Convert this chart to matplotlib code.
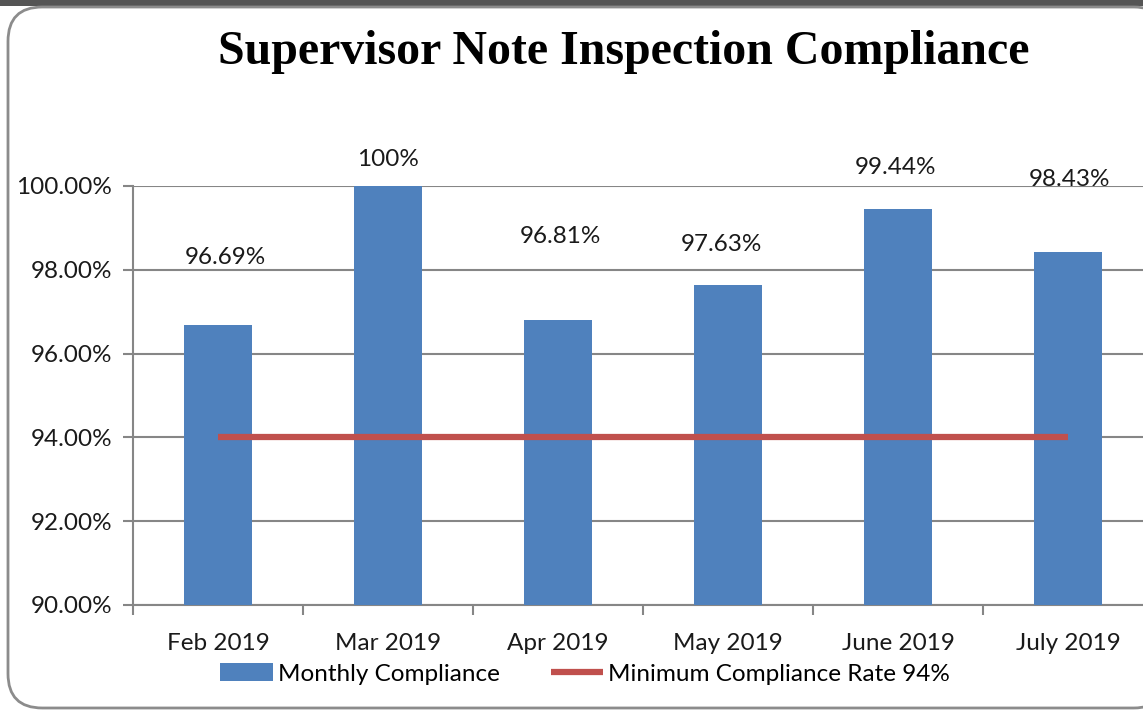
import matplotlib
matplotlib.use('Agg')
from matplotlib import pyplot as plt
from matplotlib.patches import FancyBboxPatch, Rectangle
from matplotlib.ticker import FuncFormatter, FixedLocator

months = ['Feb 2019', 'Mar 2019', 'Apr 2019', 'May 2019', 'June 2019', 'July 2019']
compliance = [96.69, 100.0, 96.81, 97.63, 99.44, 98.43]
value_labels = ['96.69%', '100%', '96.81%', '97.63%', '99.44%', '98.43%']
minimum_rate = [94, 94, 94, 94, 94, 94]

# Excel put the data labels at odd heights, offsets in pixels above bar top
label_offsets = [(7, 67), (0, 26), (2, 83), (-7, 41), (-3, 42), (2, 72)]

BLUE = '#4F81BD'
RED = '#C0504D'
GRID = '#868686'
FONT = 'Lato'
FS = 17.5

plt.rcParams['font.family'] = [FONT, 'DejaVu Sans']

fig = plt.figure(figsize=(11.43, 7.11), dpi=100)

# dark strip on top and rounded chart border
fig.patches.append(Rectangle((0, 1 - 6 / 711), 1, 6 / 711, transform=fig.transFigure,
                             facecolor='#555555', edgecolor='none', zorder=-2))
fig.patches.append(FancyBboxPatch((8 / 1143, 3 / 711), 1160 / 1143, 701 / 711,
                                  boxstyle='round,pad=0,rounding_size=0.03',
                                  transform=fig.transFigure, facecolor='white',
                                  edgecolor='#8c8c8c', linewidth=2, zorder=-1,
                                  mutation_aspect=1143 / 711))

ax = fig.add_axes([133 / 1143, 106 / 711, 1020 / 1143, 419 / 711])
x = list(range(len(months)))
bars = ax.bar(x, [c - 90 for c in compliance], bottom=90, width=0.4, color=BLUE,
              label='Monthly Compliance', zorder=3)
line, = ax.plot(x, minimum_rate, color=RED, linewidth=4.5,
                label='Minimum Compliance Rate 94%', zorder=4, solid_capstyle='butt')

for xi, val, txt, off in zip(x, compliance, value_labels, label_offsets):
    ax.annotate(txt, (xi, val), xytext=off, textcoords='offset pixels',
                ha='center', va='center', fontsize=FS, color='#1a1a1a', zorder=5)

ax.set_xlim(-0.5, 5.5)
ax.set_ylim(90, 100)
ax.set_yticks([90, 92, 94, 96, 98, 100])
ax.yaxis.set_major_formatter(FuncFormatter(lambda v, p: '%.2f%%' % v))
ax.set_xticks(x)
ax.set_xticklabels(months)
ax.xaxis.set_minor_locator(FixedLocator([i - 0.5 for i in range(7)]))
ax.tick_params(axis='x', which='major', length=0, pad=20, labelsize=FS, labelcolor='#1a1a1a')
ax.tick_params(axis='x', which='minor', length=7, width=1.5, color=GRID)
ax.tick_params(axis='y', length=7, width=1.5, color=GRID, pad=8, labelsize=FS,
               labelcolor='#1a1a1a')
ax.grid(True, axis='y', color=GRID, linewidth=1.5, zorder=1)
for side in ['top', 'right']:
    ax.spines[side].set_visible(False)
for side in ['left', 'bottom']:
    ax.spines[side].set_color(GRID)
    ax.spines[side].set_linewidth(1.5)
ax.set_facecolor('none')

fig.text(624 / 1143, 1 - 52 / 711, 'Supervisor Note Inspection Compliance',
         ha='center', va='center', fontsize=34.5, fontweight='bold',
         family='Liberation Serif')

fig.legend([bars, line], ['Monthly Compliance', 'Minimum Compliance Rate 94%'],
           loc='center', bbox_to_anchor=(585 / 1143, 1 - 674 / 711), ncol=2,
           frameon=False, fontsize=FS, handlelength=2.15, handletextpad=0.2,
           columnspacing=2.1, borderpad=0)

fig.savefig('out.png', dpi=100)
